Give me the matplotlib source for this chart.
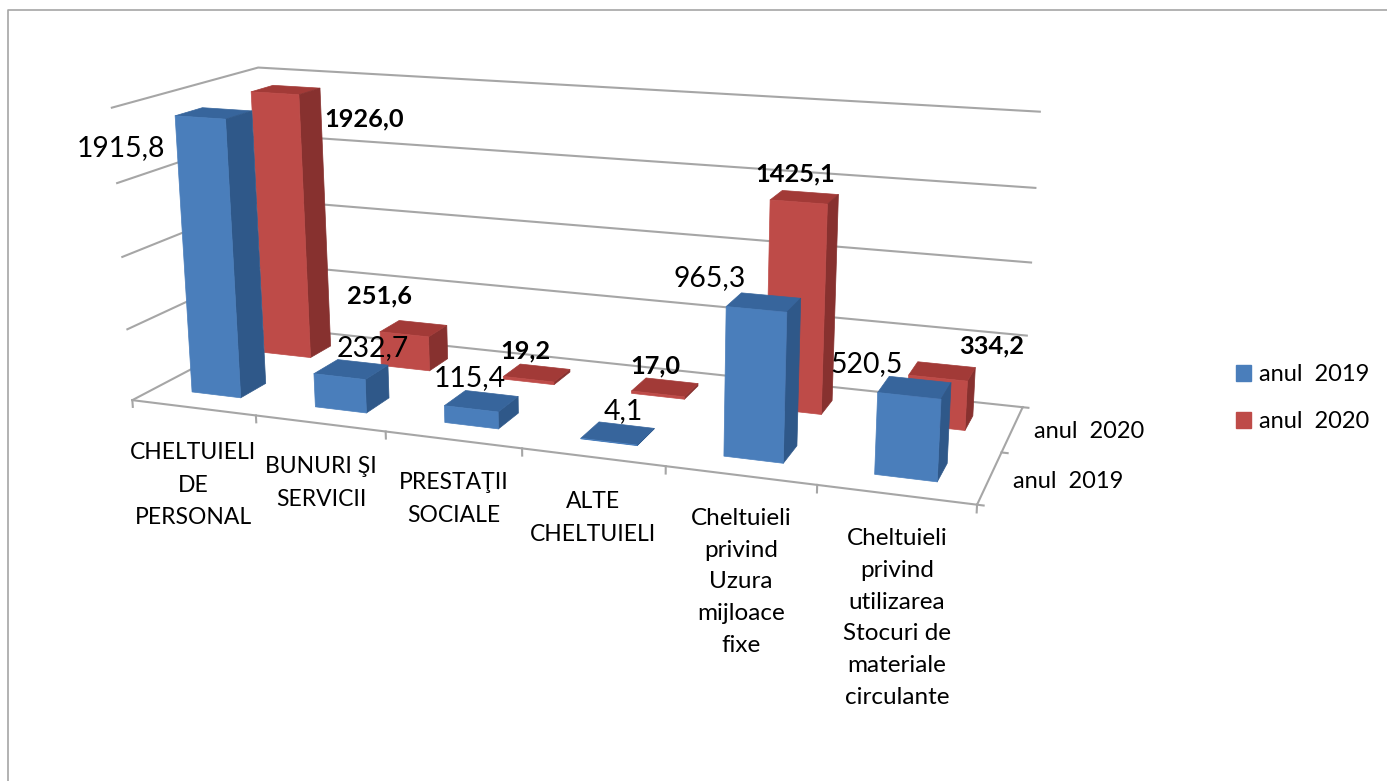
import numpy as np
import matplotlib
matplotlib.use('Agg')
import matplotlib.pyplot as plt
from matplotlib.lines import Line2D
from matplotlib.patches import Patch

W, H = 1387, 781
plt.rcParams['font.family'] = ['Lato', 'DejaVu Sans']

# Data
categories = ['CHELTUIELI\nDE\nPERSONAL', 'BUNURI ŞI\nSERVICII', 'PRESTAŢII\nSOCIALE',
              'ALTE\nCHELTUIELI', 'Cheltuieli\nprivind\nUzura\nmijloace\nfixe',
              'Cheltuieli\nprivind\nutilizarea\nStocuri de\nmateriale\ncirculante']
series_names = ['anul  2019', 'anul  2020']
values_2019 = [1915.8, 232.7, 115.4, 4.1, 965.3, 520.5]
values_2020 = [1926.0, 251.6, 19.2, 17.0, 1425.1, 334.2]
z_grid = [0, 500, 1000, 1500, 2000]

# Where the box corners and front ticks sit in the picture (x, series, value) -> pixel
calib_world = [(0, 0, 0), (1, 0, 0), (2, 0, 0), (3, 0, 0), (4, 0, 0), (5, 0, 0), (6, 0, 0),
               (6, 2, 0), (0, 2, 0), (0, 0, 2000), (0, 2, 2000), (6, 2, 2000), (6, 1, 0)]
calib_image = [(132, 400), (257, 417), (385, 432), (520, 448), (665, 467), (818, 485), (977, 503),
               (1022, 407), (272, 327), (113, 107), (257, 67), (1040, 113), (1003, 452)]

# Manually placed labels in the original, pixel centres
labels_2019_xy = [(121, 148), (373, 348), (470, 378), (623, 411), (710, 278), (867, 364)]
labels_2020_xy = [(364, 119), (380, 296), (525, 351), (655, 366), (795, 174), (992, 346)]
cat_label_xy = [(193, 485), (321, 483), (454, 499), (593, 518), (741, 582), (897, 618)]
cat_label_size = [16.5, 16.5, 16.5, 16.5, 17.5, 17.5]
cat_line_spacing = [1.70, 1.70, 1.70, 1.70, 1.64, 1.64]
series_label_xy = [(1068, 481), (1089, 432)]

front_colors = ['#4A7EBB', '#BE4B48']
side_colors = ['#2F5889', '#87312F']
top_colors = ['#37659C', '#A23A37']
none = (0, 0, 0, 0)
grid_color = '#A6A6A6'
bar_x0, bar_dx = 0.30, 0.40
bar_y0 = [0.31, 0.36]
bar_dy = [0.36, 0.33]


def fit_camera(world, image):
    # plain DLT, values scaled so the system is not badly conditioned
    rows = []
    for (x, y, z), (u, v) in zip(world, image):
        v = H - v
        u, v = u / 1000, v / 1000
        p = [x, y, z / 2000, 1]
        rows.append(p + [0, 0, 0, 0] + [-u * c for c in p])
        rows.append([0, 0, 0, 0] + p + [-v * c for c in p])
    P = np.linalg.svd(np.array(rows))[2][-1].reshape(3, 4)
    P[:, 2] /= 2000
    P[:2] *= 1000
    if P[2] @ np.array([0, 0, 0, 1]) < 0:
        P = -P
    return np.array([P[0], P[1], [0, 1, 0, 0], P[2]])


fig = plt.figure(figsize=(W / 100, H / 100), dpi=100)
ax = fig.add_subplot(projection='3d')
ax.set_position([0, 0, 1, 1])
ax.set_axis_off()
ax.computed_zorder = False
ax.set_proj_type('ortho')  # otherwise lines outside -1..1 get clipped away
M = fit_camera(calib_world, calib_image)
ax.get_proj = lambda: M
ax.apply_aspect = lambda position=None: None


def line(xs, ys, zs):
    ax.plot(xs, ys, zs, color=grid_color, lw=1.5, zorder=1)


# walls and floor
for z in z_grid:
    line([0, 0, 6], [0, 2, 2], [z, z, z])
line([0, 6, 6], [0, 0, 2], [0, 0, 0])
for c in range(7):
    line([c, c], [0, 0], [0, -48])
for s in range(3):
    line([6, 6.04], [s, s], [0, 0])

# bars, back series first
for s, vals in reversed(list(enumerate([values_2019, values_2020]))):
    n = len(vals)
    colors = [none, top_colors[s], front_colors[s], none, none, side_colors[s]] * n
    ax.bar3d(np.arange(n) + bar_x0, np.full(n, s + bar_y0[s]), np.zeros(n),
             bar_dx, bar_dy[s], vals, color=colors, edgecolor=colors, linewidth=0.5,
             shade=False, zorder=3 - s)

ax.set_xlim(0, 6)
ax.set_ylim(0, 2)
ax.set_zlim(0, 2000)


def px_text(xy, s, **kw):
    fig.text(xy[0] / W, 1 - xy[1] / H, s, ha='center', va='center', color='black', **kw)


for xy, v in zip(labels_2019_xy, values_2019):
    px_text(xy, f'{v:.1f}'.replace('.', ','), fontsize=20.4)
for xy, v in zip(labels_2020_xy, values_2020):
    px_text(xy, f'{v:.1f}'.replace('.', ','), fontsize=18.3, fontweight='bold')
for xy, s, size, ls in zip(cat_label_xy, categories, cat_label_size, cat_line_spacing):
    px_text(xy, s, fontsize=size, linespacing=ls)
for xy, s in zip(series_label_xy, series_names):
    px_text(xy, s, fontsize=17)

handles = [Patch(color=front_colors[0]), Patch(color=front_colors[1])]
fig.legend(handles, series_names, loc='upper left', bbox_to_anchor=(1236 / W, 1 - 364 / H),
           frameon=False, fontsize=17, handlelength=0.65, handleheight=0.65, handletextpad=0.34,
           labelspacing=1.1, borderpad=0, borderaxespad=0)

# outer frame of the pasted picture
fig.add_artist(Line2D([8 / W, 8 / W, 1], [0, 1 - 10 / H, 1 - 10 / H], color='#A6A6A6', lw=1.2))

ax.viewLim.intervalx = (0, W)
ax.viewLim.intervaly = (0, H)

fig.savefig('out.png', dpi=100, facecolor='white')
